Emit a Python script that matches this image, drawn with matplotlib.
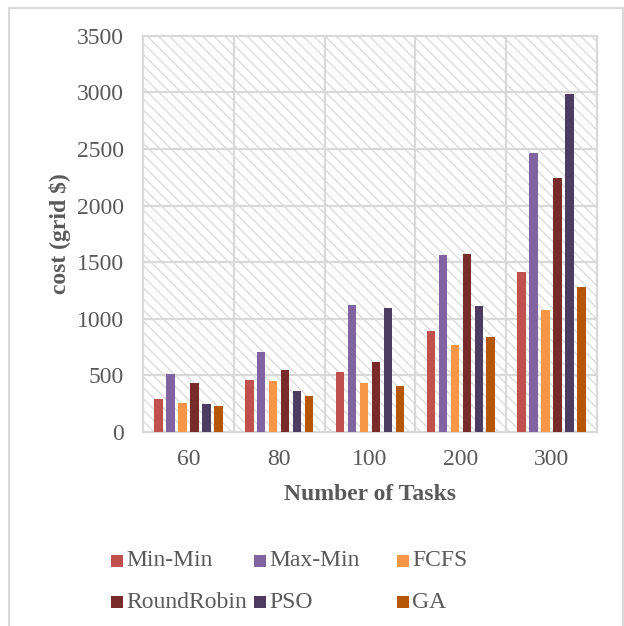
import matplotlib
matplotlib.use('Agg')
import numpy as np
import matplotlib.pyplot as plt
from matplotlib.patches import Rectangle

plt.rcParams['font.family'] = ['Liberation Serif', 'DejaVu Serif']
plt.rcParams['hatch.linewidth'] = 1.0

# 各算法在不同任务数下的代价
tasks = ['60', '80', '100', '200', '300']
min_min = [295, 460, 527, 895, 1410]
max_min = [515, 707, 1120, 1565, 2465]
fcfs = [258, 450, 432, 765, 1080]
round_robin = [432, 545, 618, 1570, 2242]
pso = [243, 366, 1095, 1115, 2985]
ga = [232, 320, 408, 840, 1283]

names = ['Min-Min', 'Max-Min', 'FCFS', 'RoundRobin', 'PSO', 'GA']
series = [min_min, max_min, fcfs, round_robin, pso, ga]
colors = ['#C0504D', '#8064A2', '#F79646', '#772C2A', '#4D3B62', '#B65708']

grid_c = '#D9D9D9'
text_c = '#595959'
fs = 17

fig = plt.figure(figsize=(6.24, 6.26), dpi=100)
ax = fig.add_axes([143 / 624, 1 - 432 / 626, 454 / 624, 396.3 / 626])

# 背景斜线填充
ax.add_patch(Rectangle((0, 0), 1, 1, transform=ax.transAxes, facecolor='white',
                       edgecolor='#DDDDDD', hatch='\\\\\\', linewidth=0, zorder=0))

x = np.arange(len(tasks))
pitch = 0.132
width = 0.094
for i, (vals, c) in enumerate(zip(series, colors)):
    ax.bar(x + (i - 2.5) * pitch, vals, width=width, color=c, zorder=3, label=names[i])

ax.set_xlim(-0.5, len(tasks) - 0.5)
ax.set_ylim(0, 3500)
ax.set_yticks(range(0, 3501, 500))
ax.set_xticks(x)
ax.set_xticklabels(tasks)

# 网格线
for yv in range(500, 3500, 500):
    ax.axhline(yv, color=grid_c, lw=1.6, zorder=1)
for xv in np.arange(0.5, len(tasks) - 0.5, 1):
    ax.axvline(xv, color=grid_c, lw=1.6, zorder=1)

for s in ax.spines.values():
    s.set_color(grid_c)
    s.set_linewidth(1.6)

ax.tick_params(length=0, labelsize=fs, labelcolor=text_c)
ax.tick_params(axis='y', pad=14)
ax.tick_params(axis='x', pad=12)

ax.set_xlabel('Number of Tasks', fontsize=fs, fontweight='bold', color=text_c, labelpad=10)
ax.set_ylabel('cost (grid $)', fontsize=fs, fontweight='bold', color=text_c, labelpad=4)

# 图例
W, H = 624, 626
leg_x = [111, 254, 397]
leg_y = [561, 602]
for i, (n, c) in enumerate(zip(names, colors)):
    lx = leg_x[i % 3]
    ly = leg_y[i // 3]
    fig.patches.append(Rectangle((lx / W, 1 - (ly + 6) / H), 12 / W, 12 / H,
                                 transform=fig.transFigure, facecolor=c, edgecolor='none'))
    fig.text((lx + 15) / W, 1 - ly / H, n, fontsize=fs, color=text_c, va='center', ha='left')

# 外框
fig.patches.append(Rectangle((9 / W, -0.01), 614 / W, 1 - 8 / H + 0.01,
                             transform=fig.transFigure, facecolor='none',
                             edgecolor=grid_c, linewidth=1.5))

fig.savefig('out.png', dpi=100)
